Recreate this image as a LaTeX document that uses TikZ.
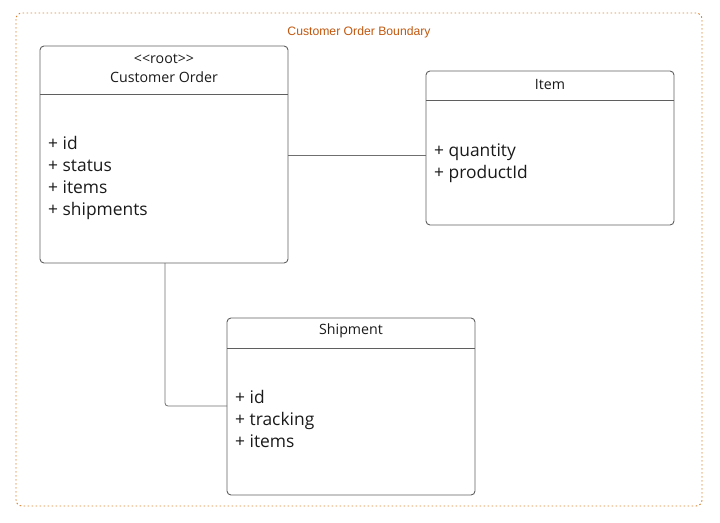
\documentclass[tikz,border=0pt]{standalone}
\usepackage{fontspec}
\setmainfont{Liberation Sans}
\newfontfamily\boxfont{Open Sans}
\definecolor{bnd}{HTML}{D9822B}
\definecolor{bndtext}{HTML}{C0580F}
\definecolor{boxline}{HTML}{5F5F5F}
\definecolor{txt}{HTML}{1A1A1A}
\begin{document}
\begin{tikzpicture}[x=1pt,y=-1pt,
  classbox/.style={draw=boxline,line width=0.9pt,rounded corners=4pt},
  divider/.style={draw=boxline,line width=0.9pt},
  titletext/.style={font=\boxfont\fontsize{14.2}{16}\selectfont,text=txt,inner sep=0pt},
  attrtext/.style={font=\boxfont\fontsize{17.4}{22}\selectfont,text=txt,inner sep=0pt,anchor=base west,align=left},
  conn/.style={draw=boxline!90,line width=0.8pt,rounded corners=3pt}]
\useasboundingbox (0,0) rectangle (720,522);
% boundary
\draw[bnd,line width=0.9pt,dash pattern=on 1.6pt off 2.4pt,rounded corners=6pt] (16,13) rectangle (702,506);
\node[font=\fontsize{12.2}{14}\selectfont,text=bndtext,inner sep=0pt] (blabel) at (359,32) {Customer Order Boundary};
% Customer Order
\draw[classbox] (40,46) rectangle (288,263);
\node[inner sep=0pt,minimum width=248pt,minimum height=217pt,anchor=north west] (co) at (40,46) {};
\draw[divider] (40,94) -- (288,94);
\node[titletext] (corole) at (164,59) {{<}{<}root{>}{>}};
\node[titletext] (cotitle) at (164,77) {Customer Order};
\node[attrtext] (coattr1) at (48,149) {+ id};
\node[attrtext] (coattr2) at (48,171) {+ status};
\node[attrtext] (coattr3) at (48,193) {+ items};
\node[attrtext] (coattr4) at (48,215) {+ shipments};
% Item
\draw[classbox] (426,71) rectangle (674,225);
\node[inner sep=0pt,minimum width=248pt,minimum height=154pt,anchor=north west] (item) at (426,71) {};
\draw[divider] (426,100) -- (674,100);
\node[titletext] (itemtitle) at (550,84) {Item};
\node[attrtext] (itemattr1) at (434,156) {+ quantity};
\node[attrtext] (itemattr2) at (434,178) {+ productId};
% Shipment
\draw[classbox] (227,318) rectangle (475,495);
\node[inner sep=0pt,minimum width=248pt,minimum height=177pt,anchor=north west] (ship) at (227,318) {};
\draw[divider] (227,348) -- (475,348);
\node[titletext] (shiptitle) at (351,331) {Shipment};
\node[attrtext] (shipattr1) at (235,403) {+ id};
\node[attrtext] (shipattr2) at (235,425) {+ tracking};
\node[attrtext] (shipattr3) at (235,447) {+ items};
% connectors
\coordinate (coR) at (288,155);
\coordinate (itemL) at (426,155);
\draw[conn] (coR) -- (itemL);
\coordinate (coB) at (165,263);
\coordinate (shipL) at (227,406);
\draw[conn] (coB) |- (shipL);
\end{tikzpicture}
\end{document}
